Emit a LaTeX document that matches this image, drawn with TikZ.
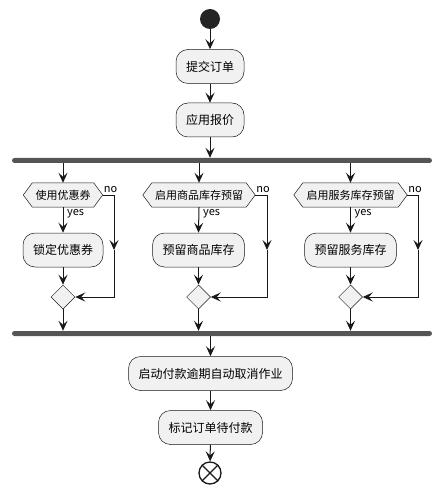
\documentclass[tikz,border=0pt]{standalone}
\usepackage{fontspec}
\setmainfont{Noto Sans CJK SC}
\usetikzlibrary{arrows.meta,backgrounds,calc,shapes.geometric}
\definecolor{ln}{HTML}{181818}
\definecolor{bx}{HTML}{F1F1F1}
\definecolor{br}{HTML}{555555}
\begin{document}
\begin{tikzpicture}[x=1pt,y=-1pt,
 act/.style={draw=ln, fill=bx, rounded corners=12pt, line width=0.5pt, minimum height=34pt, inner xsep=10pt, font=\fontsize{12}{14}\selectfont, text=black},
 hexn/.style={minimum height=24pt, inner sep=0pt, font=\fontsize{11}{13}\selectfont, text=black},
 merge/.style={diamond, draw=ln, fill=bx, line width=0.5pt, minimum width=24pt, minimum height=24pt, inner sep=0pt},
 barn/.style={fill=br, rounded corners=2.5pt, minimum width=420pt, minimum height=5pt, inner sep=0pt},
 arr/.style={draw=ln, line width=1pt, -{Stealth[length=10pt,width=9pt,inset=4pt]}},
 lbl/.style={font=\fontsize{11}{13}\selectfont, inner sep=1pt, text=black}]
\useasboundingbox (0,0) rectangle (443,494);
\node[circle, fill=ln!95!white, minimum size=20pt, inner sep=0pt] (s) at (210,19) {};
\node[act] (a1) at (210,66.5) {提交订单};
\node[act] (a2) at (210,120) {应用报价};
\node[barn] (fork) at (222,160.5) {};
\node[hexn, minimum width=79pt] (h1) at (63,195) {使用优惠券};
\node[hexn, minimum width=112pt] (h2) at (199,195) {启用商品库存预留};
\node[hexn, minimum width=113pt] (h3) at (350.5,195) {启用服务库存预留};
\begin{scope}[on background layer]
\foreach \n in {h1,h2,h3}{
 \draw[draw=ln, fill=bx, line width=0.5pt] (\n.west) -- ([xshift=9pt]\n.north west) -- ([xshift=-9pt]\n.north east) -- (\n.east) -- ([xshift=-9pt]\n.south east) -- ([xshift=9pt]\n.south west) -- cycle;
}
\end{scope}
\node[act] (b1) at (63,250) {锁定优惠券};
\node[act] (b2) at (198.5,250) {预留商品库存};
\node[act] (b3) at (350.5,250) {预留服务库存};
\node[merge] (d1) at (63,297) {};
\node[merge] (d2) at (198.5,297) {};
\node[merge] (d3) at (350.5,297) {};
\node[barn] (join) at (222,333.5) {};
\node[act] (a3) at (210.5,373.5) {启动付款逾期自动取消作业};
\node[act] (a4) at (210.5,427.5) {标记订单待付款};
\node[circle, draw=ln, line width=1.3pt, minimum size=22pt, inner sep=0pt] (e) at (210,473) {};
\draw[ln, line width=1.3pt] (e.north west) -- (e.south east) (e.north east) -- (e.south west);
% main flow
\draw[arr] (s) -- (a1);
\draw[arr] (a1) -- (a2);
\draw[arr] (a2.south) -- (a2.south |- fork.north);
\foreach \h/\b/\d/\x in {h1/b1/d1/114, h2/b2/d2/267, h3/b3/d3/418}{
 \draw[arr] (\h.north |- fork.south) -- (\h.north);
 \draw[arr] (\h.south) -- (\b.north);
 \draw[arr] (\b.south) -- (\d.north);
 \draw[arr] (\d.south) -- (\d.south |- join.north);
 \coordinate (m\h) at (\x,250);
 \draw[arr] (\h.east) -| (m\h);
 \draw[arr] (m\h) |- (\d.east);
 \node[lbl, anchor=south west] at ([yshift=1.5pt]\h.east) {no};
 \node[lbl, anchor=west] at ([xshift=3pt,yshift=-7pt]\h.south) {yes};
}
\draw[arr] (a3.north |- join.south) -- (a3.north);
\draw[arr] (a3) -- (a4);
\draw[arr] (a4) -- (e);
\end{tikzpicture}
\end{document}
